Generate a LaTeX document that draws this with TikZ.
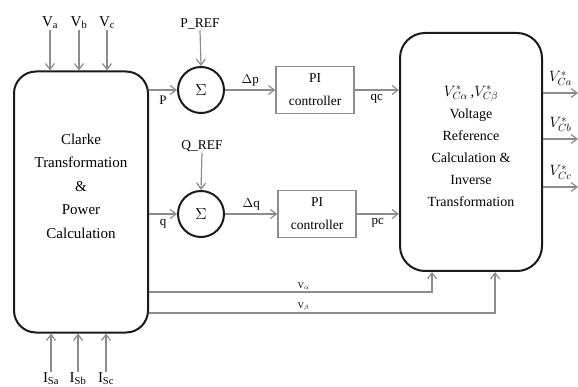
\documentclass[tikz,border=0pt]{standalone}
\usepackage{fix-cm}
\usepackage{fontspec}
\setmainfont{Liberation Serif}
\usetikzlibrary{arrows.meta,positioning}
\definecolor{wiregray}{HTML}{8C8C8C}
\definecolor{inkblack}{HTML}{1A1A1A}
\tikzset{
  sig/.style={-{Straight Barb[length=6pt,width=9pt]},line width=1.2pt,draw=wiregray},
  bigblock/.style={draw=inkblack,line width=2pt,rounded corners=22pt},
  blocktext/.style={align=center,inner sep=0pt,font=\fontsize{15}{23.5}\selectfont},
  sumnode/.style={circle,draw=inkblack,line width=2pt,minimum size=46pt,inner sep=0pt,
    font=\fontsize{16}{18}\selectfont},
  pibox/.style={draw=wiregray,line width=1.2pt,minimum width=78pt,minimum height=47pt,
    align=center,inner sep=2pt,font=\fontsize{13.5}{23}\selectfont},
  inlbl/.style={inner sep=1pt,font=\fontsize{15}{18}\selectfont},
  reflbl/.style={inner sep=1pt,font=\fontsize{13.5}{16}\selectfont},
  sigl/.style={inner sep=2pt,font=\fontsize{13}{15}\selectfont},
  vlbl/.style={inner sep=1pt,font=\fontsize{9}{11}\selectfont},
  outlbl/.style={inner sep=1pt,font=\fontsize{15}{18}\selectfont}
}
\begin{document}
\begin{tikzpicture}[x=1pt,y=-1pt]
  \useasboundingbox (0,0) rectangle (578,387);

  % main blocks
  \node[bigblock,minimum width=134pt,minimum height=261pt] (clarke) at (81,202) {};
  \node[blocktext] (clarketext) at ([yshift=16pt]clarke.center)
    {Clarke\\Transformation\\\&\\Power\\Calculation};
  \node[bigblock,minimum width=142pt,minimum height=238pt,rounded corners=25pt] (vref) at (471,152) {};
  \node[blocktext,font=\fontsize{14}{22}\selectfont] (vreftext) at ([yshift=6pt]vref.center)
    {\fontsize{15}{22}\selectfont$V^{*}_{C\alpha}$\,,$V^{*}_{C\beta}$\\Voltage\\Reference\\Calculation \&\\Inverse\\Transformation};

  % p and q loops
  \node[sumnode] (sump) at (201,90) {$\Sigma$};
  \node[sumnode] (sumq) at (201,214) {$\Sigma$};
  \node[pibox] (pip) at (315,90) {PI\\controller};
  \node[pibox] (piq) at (317,214) {PI\\controller};
  \node[reflbl] (pref) at (200,24) {P\_REF};
  \node[reflbl] (qref) at (202,146) {Q\_REF};

  % inputs
  \node[inlbl] (va) at (50,23) {V\textsubscript{a}};
  \node[inlbl] (vb) at (79,23) {V\textsubscript{b}};
  \node[inlbl] (vc) at (107,23) {V\textsubscript{c}};
  \node[inlbl] (isa) at (51,379) {I\textsubscript{Sa}};
  \node[inlbl] (isb) at (78,379) {I\textsubscript{Sb}};
  \node[inlbl] (isc) at (106,379) {I\textsubscript{Sc}};

  \coordinate (outa) at (578,93);
  \coordinate (outb) at (578,139);
  \coordinate (outc) at (578,187);
  \coordinate (alphain) at (432,292);
  \coordinate (betain) at (495,313);

  \draw[sig] (va.south) -- (va.south |- clarke.north);
  \draw[sig] (vb.south) -- (vb.south |- clarke.north);
  \draw[sig] (vc.south) -- (vc.south |- clarke.north);
  \draw[sig] (isa.north) -- (isa.north |- clarke.south);
  \draw[sig] (isb.north) -- (isb.north |- clarke.south);
  \draw[sig] (isc.north) -- (isc.north |- clarke.south);

  \draw[sig] (clarke.east |- sump) -- (sump.west) node[sigl,midway,below=3pt] {P};
  \draw[sig] (pref.south) -- (sump.north);
  \draw[sig] (sump.east) -- (pip.west) node[sigl,midway,above=1pt] {$\Delta$p};
  \draw[sig] (pip.east) -- (pip.east -| vref.west) node[sigl,midway,below=2pt] {qc};

  \draw[sig] (clarke.east |- sumq) -- (sumq.west) node[sigl,midway,below=3pt] {q};
  \draw[sig] (qref.south) -- (sumq.north);
  \draw[sig] (sumq.east) -- (piq.west) node[sigl,midway,above=1pt] {$\Delta$q};
  \draw[sig] (piq.east) -- (piq.east -| vref.west) node[sigl,midway,below=2pt] {pc};

  \draw[sig] (clarke.east |- alphain) -| (alphain |- vref.south) node[vlbl,pos=0.273,above=1pt] {V$_\alpha$};
  \draw[sig] (clarke.east |- betain) -| (betain |- vref.south) node[vlbl,pos=0.223,above=1pt] {V$_\beta$};

  % outputs
  \draw[sig] (vref.east |- outa) -- (outa) node[outlbl,midway,above=6pt] {$V^{*}_{Ca}$};
  \draw[sig] (vref.east |- outb) -- (outb) node[outlbl,midway,above=6pt] {$V^{*}_{Cb}$};
  \draw[sig] (vref.east |- outc) -- (outc) node[outlbl,midway,above=6pt] {$V^{*}_{Cc}$};
\end{tikzpicture}
\end{document}
